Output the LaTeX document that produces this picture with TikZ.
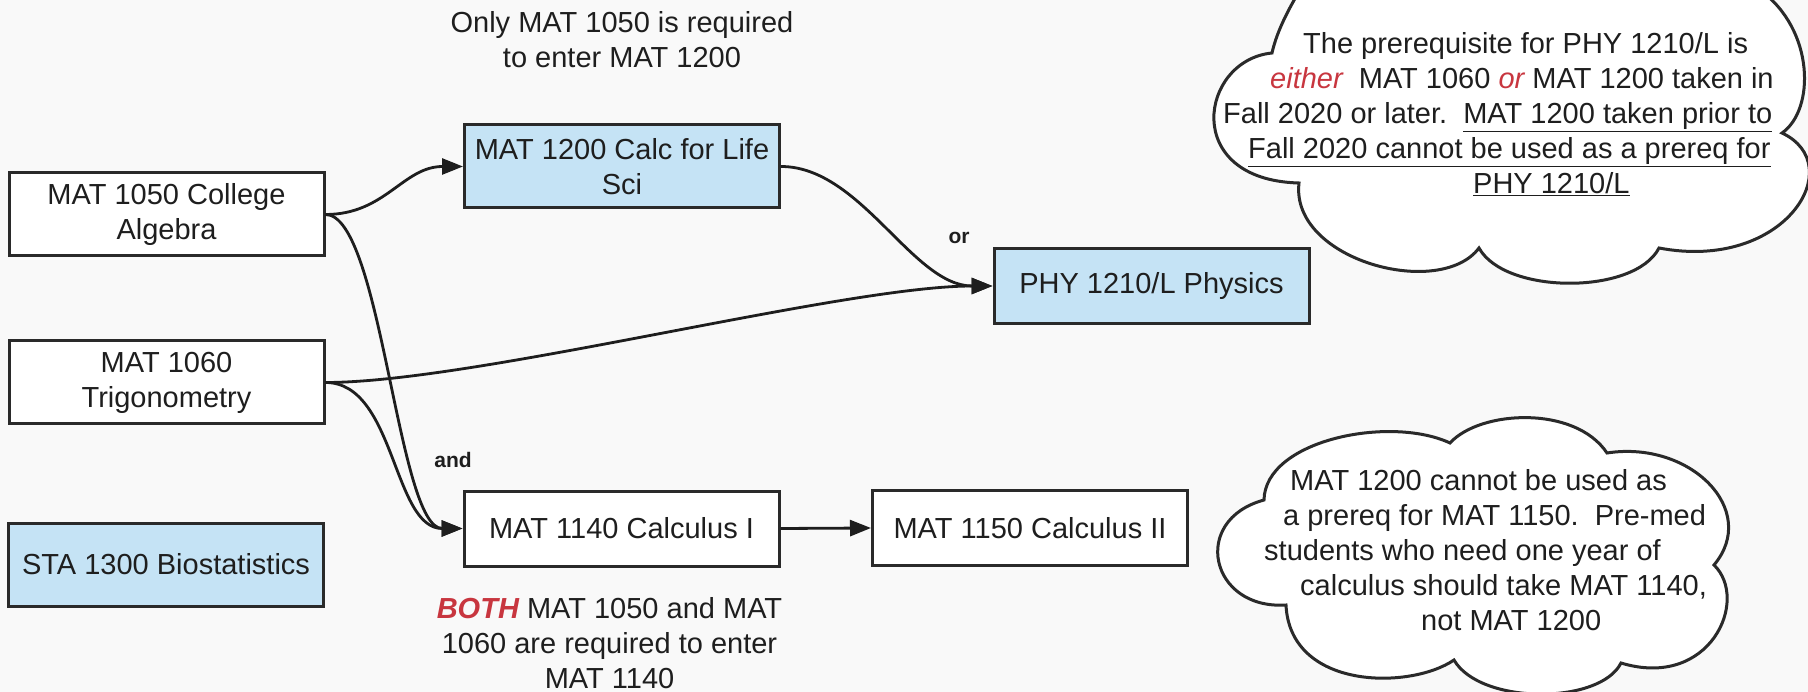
\documentclass[tikz,border=0pt]{standalone}
\usepackage{fontspec}
\setmainfont{Liberation Sans}
\usetikzlibrary{arrows.meta}
\definecolor{ink}{HTML}{1E1E1E}
\definecolor{edge}{HTML}{2A2A2A}
\definecolor{fillblue}{HTML}{C5E3F5}
\definecolor{accent}{HTML}{C8363F}
\definecolor{bg}{HTML}{F9F9F9}
\begin{document}
\begin{tikzpicture}[x=1pt,y=-1pt,
  box/.style={draw=edge, line width=3pt, fill=white, minimum width=315pt, minimum height=83pt, align=center, inner sep=0pt, text=ink, font=\fontsize{29}{35}\selectfont},
  bluebox/.style={box, fill=fillblue},
  lowbox/.style={minimum height=75pt},
  conn/.style={draw=ink, line width=2.8pt, -{Triangle[length=21pt,width=16pt]}},
  note/.style={text=ink, font=\fontsize{29}{35}\selectfont, inner sep=0pt},
  tag/.style={text=ink, font=\fontsize{21}{25}\selectfont\bfseries, inner sep=0pt},
  cloudshape/.style={draw=edge, line width=3pt, fill=white}
]
\useasboundingbox (0,0) rectangle (1808,692);
\clip (0,0) rectangle (1808,692);
\fill[bg] (0,0) rectangle (1808,692);

% clouds
\path[cloudshape] (1272,53)
  .. controls (1200,60) and (1180,180) .. (1299,183)
  .. controls (1290,260) and (1440,300) .. (1479,248)
  .. controls (1505,295) and (1635,295) .. (1659,248)
  .. controls (1785,272) and (1850,165) .. (1782,133)
  .. controls (1815,110) and (1815,30) .. (1760,-10)
  -- (1760,-60) -- (1300,-60) -- (1300,-10)
  .. controls (1285,15) and (1276,35) .. (1272,53) -- cycle;
\path[cloudshape] (1450,443)
  .. controls (1480,410) and (1575,405) .. (1607,453)
  .. controls (1690,440) and (1760,510) .. (1714,565)
  .. controls (1750,600) and (1710,690) .. (1621,663)
  .. controls (1600,705) and (1480,705) .. (1454,660)
  .. controls (1410,690) and (1290,690) .. (1286,605)
  .. controls (1210,610) and (1190,520) .. (1264,500)
  .. controls (1265,440) and (1390,415) .. (1450,443) -- cycle;

% boxes
\node[box] (b1050) at (166.5,214.5) {MAT 1050 College\\Algebra};
\node[box] (b1060) at (166.5,382.5) {MAT 1060\\Trigonometry};
\node[bluebox] (b1300) at (166,564.5) {STA 1300 Biostatistics};
\node[bluebox] (b1200) at (622,166.5) {MAT 1200 Calc for Life\\Sci};
\node[bluebox, lowbox] (bphy) at (1151.5,286) {PHY 1210/L Physics};
\node[box, lowbox] (b1140) at (621.5,528.5) {MAT 1140 Calculus I};
\node[box, lowbox] (b1150) at (1030,528) {MAT 1150 Calculus II};

% connectors
\draw[conn] (b1050.east) .. controls +(60,0) and +(-60,0) .. (b1200.west);
\draw[conn] (b1050.east) .. controls +(56,0) and +(-65,0) .. (b1140.west);
\draw[conn] (b1060.east) .. controls +(70,0) and +(-70,0) .. (b1140.west);
\draw[conn] (b1060.east) .. controls +(150,0) and +(-150,0) .. (bphy.west);
\draw[conn] (b1200.east) .. controls +(80,0) and +(-80,0) .. (bphy.west);
\draw[conn] (b1140.east) -- (b1150.west);

% labels
\node[tag] (lor) at (959,238) {or};
\node[tag] (land) at (453,460) {and};

% notes
\node[note, align=center] (n1200) at (622,40) {Only MAT 1050 is required\\to enter MAT 1200};
\node[note, align=center] (n1140) at (609.5,643) {{\color{accent}\bfseries\itshape BOTH} MAT 1050 and MAT\\1060 are required to enter\\MAT 1140};
\node[note, align=left, anchor=west] (nphy) at (1223,114) {\hspace*{80pt}The prerequisite for PHY 1210/L is\\
\hspace*{47pt}{\color{accent}\itshape either}\ \ MAT 1060 {\color{accent}\itshape or} MAT 1200 taken in\\
Fall 2020 or later.\ \ \underline{MAT 1200 taken prior to}\\
\hspace*{25pt}\underline{Fall 2020 cannot be used as a prereq for}\\
\hspace*{250pt}\underline{PHY 1210/L}};
\node[note, align=left, anchor=west] (n1150) at (1264,550) {\hspace*{26pt}MAT 1200 cannot be used as\\
\hspace*{19pt}a prereq for MAT 1150.\ \ Pre-med\\
students who need one year of\\
\hspace*{36pt}calculus should take MAT 1140,\\
\hspace*{157pt}not MAT 1200};
\end{tikzpicture}
\end{document}
